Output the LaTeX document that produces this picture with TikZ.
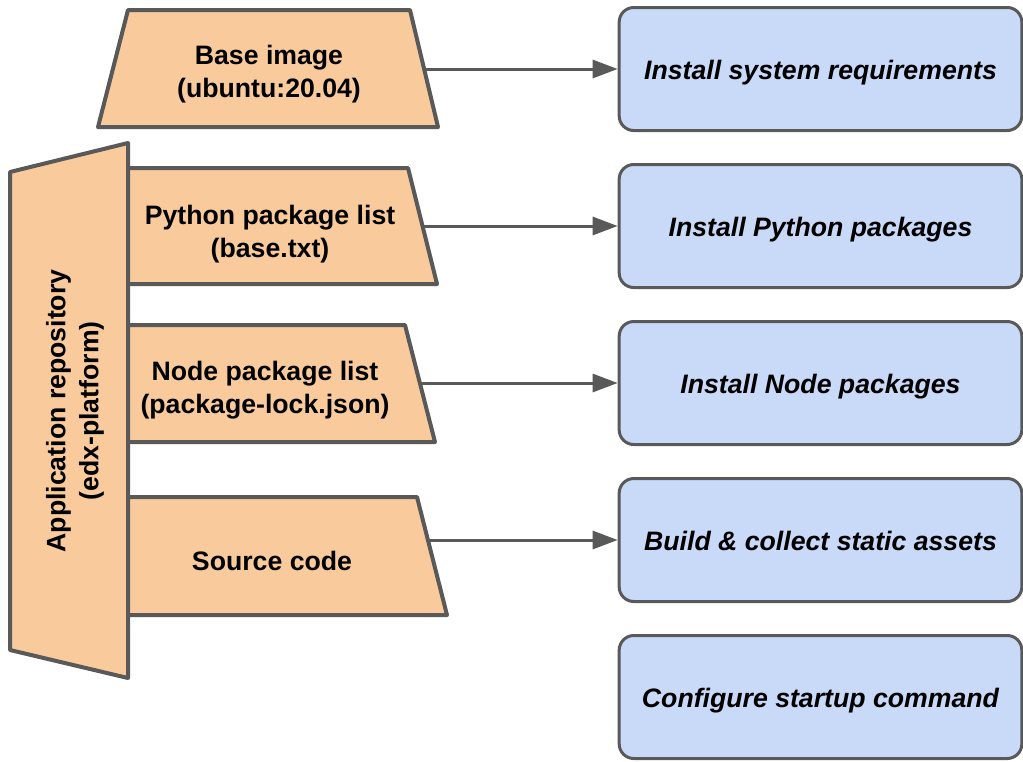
\documentclass[tikz,border=0pt]{standalone}
\usepackage{fontspec}
\setmainfont{Liberation Sans}
\usepackage{xcolor}
\usetikzlibrary{positioning, arrows.meta}

\definecolor{srcfill}{HTML}{F9CB9C}
\definecolor{stagefill}{HTML}{C9DAF8}
\definecolor{edgegray}{HTML}{595959}

\begin{document}
\begin{tikzpicture}[
    x=0.75pt, y=-0.75pt,
    node distance=23.25pt,
    src/.style={fill=srcfill, draw=edgegray, line width=3pt, line join=round},
    srctext/.style={align=center, inner sep=0pt, font=\fontsize{20}{24.75}\selectfont\bfseries},
    stage/.style={rectangle, draw=edgegray, line width=2.25pt, fill=stagefill, rounded corners=11pt, minimum width=302pt, minimum height=92.25pt, text height=18pt, text depth=2pt, align=center, font=\fontsize{20}{24.75}\selectfont\bfseries\itshape},
    arrow/.style={-{Triangle[length=18.75pt, width=13.5pt]}, draw=edgegray, line width=2.25pt}
]
    \useasboundingbox (0,0) rectangle (1023,761);

    % Inputs
    \draw[src] (128,10) -- (410,10) -- (438,127) -- (98,127) -- cycle;
    \draw[src] (10,172) -- (128,143) -- (128,678) -- (10,650) -- cycle;
    \draw[src] (128,168) -- (408,168) -- (437,284) -- (128,284) -- cycle;
    \draw[src] (128,325) -- (405,325) -- (435,442) -- (128,442) -- cycle;
    \draw[src] (128,497) -- (417,497) -- (447,615) -- (128,615) -- cycle;

    \node[srctext] (baseimg) at (269,74) {Base image\\(ubuntu:20.04)};
    \node[srctext, rotate=90] (repo) at (75,411) {Application repository\\(edx-platform)};
    \node[srctext] (pylist) at (270,234) {Python package list\\(base.txt)};
    \node[srctext] (nodelist) at (265,390) {Node package list\\(package-lock.json)};
    \node[srctext] (srccode) at (272,561) {Source code};

    \coordinate (baseout) at (424,69);
    \coordinate (pyout) at (422.5,226);
    \coordinate (nodeout) at (420,383);
    \coordinate (srcout) at (428,540);

    % Build stages
    \node[stage] (sysreq) at (820.5,69) {Install system requirements};
    \node[stage, below=of sysreq] (pyinstall) {Install Python packages};
    \node[stage, below=of pyinstall] (nodeinstall) {Install Node packages};
    \node[stage, below=of nodeinstall] (assets) {Build \& collect static assets};
    \node[stage, below=of assets] (startup) {Configure startup command};

    % Connections
    \draw[arrow] (baseout) -- (sysreq);
    \draw[arrow] (pyout) -- (pyinstall);
    \draw[arrow] (nodeout) -- (nodeinstall);
    \draw[arrow] (srcout) -- (assets);

\end{tikzpicture}
\end{document}
